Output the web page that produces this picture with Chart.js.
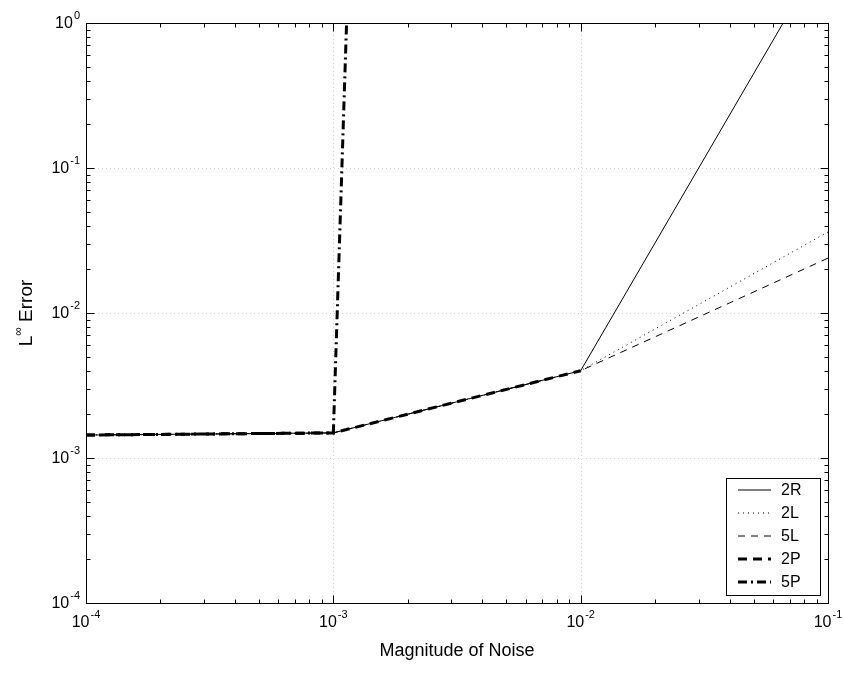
<!DOCTYPE html>
<html>
<head>
<meta charset="utf-8">
<script src="https://cdn.jsdelivr.net/npm/chart.js@4/dist/chart.umd.min.js"></script>
<style>
body{margin:0;background:#fff}
#wrap{width:844px;height:674px}
</style>
</head>
<body>
<div id="wrap"><canvas id="c" width="844" height="674"></canvas></div>
<script>
// values
var noise = [1e-4, 1e-3, 1e-2, 1e-1]
var err2R = [1.44e-3, 1.49e-3, 4.0e-3, 3.4]
var err2L = [1.44e-3, 1.49e-3, 4.0e-3, 0.0362]
var err5L = [1.44e-3, 1.49e-3, 4.0e-3, 0.0239]
var err2P = [1.44e-3, 1.49e-3, 4.0e-3, null]
var err5P = [1.44e-3, 1.49e-3, 1e50, null]
var xMajor = [1e-4, 1e-3, 1e-2, 1e-1]
var yMajor = [1e-4, 1e-3, 1e-2, 1e-1, 1e0]
var xExp = ['-4', '-3', '-2', '-1']
var yExp = ['-4', '-3', '-2', '-1', '0']
var names = ['2R', '2L', '5L', '2P', '5P']

function pts(ys){
  var out = []
  for (var i = 0; i < noise.length; i++) out.push({x: noise[i], y: ys[i]})
  return out
}

var FONT = '"Liberation Sans", Arial, Helvetica, sans-serif'

function minorVals(lo, hi){
  var v = []
  for (var d = lo; d < hi; d *= 10)
    for (var k = 2; k <= 9; k++) v.push(d * k)
  return v
}

// draws "10" with a raised exponent, anchored by align
function powLabel(ctx, exp, x, y, align){
  ctx.font = '16px ' + FONT
  var w1 = ctx.measureText('10').width
  ctx.font = '11px ' + FONT
  var w2 = ctx.measureText(exp).width
  var total = w1 + w2 + 1
  var sx = align == 'center' ? x - total / 2 : x - total
  ctx.textAlign = 'left'
  ctx.textBaseline = 'middle'
  ctx.font = '16px ' + FONT
  ctx.fillText('10', sx, y)
  ctx.font = '11px ' + FONT
  ctx.fillText(exp, sx + w1 + 1, y - 8)
}

var frame = {
  id: 'frame',
  beforeDatasetsDraw: function(chart){
    var ctx = chart.ctx, a = chart.chartArea
    var xs = chart.scales.x, ys = chart.scales.y
    ctx.save()
    ctx.strokeStyle = 'rgba(0,0,0,0.18)'
    ctx.lineWidth = 1
    ctx.setLineDash([1, 3])
    xMajor.slice(1, -1).forEach(function(v){
      var px = Math.round(xs.getPixelForValue(v)) + 0.5
      ctx.beginPath(); ctx.moveTo(px, a.top); ctx.lineTo(px, a.bottom); ctx.stroke()
    })
    yMajor.slice(1, -1).forEach(function(v){
      var py = Math.round(ys.getPixelForValue(v)) + 0.5
      ctx.beginPath(); ctx.moveTo(a.left, py); ctx.lineTo(a.right, py); ctx.stroke()
    })
    ctx.restore()
  },
  afterDraw: function(chart){
    var ctx = chart.ctx, a = chart.chartArea
    var xs = chart.scales.x, ys = chart.scales.y
    ctx.save()
    ctx.strokeStyle = '#000'
    ctx.fillStyle = '#000'
    ctx.lineWidth = 1
    ctx.setLineDash([])
    var L = Math.round(a.left) + 0.5, R = Math.round(a.right) + 0.5
    var T = Math.round(a.top) + 0.5, B = Math.round(a.bottom) + 0.5
    ctx.strokeRect(L, T, R - L, B - T)

    // inward ticks on all four sides
    function xt(v, len){
      var px = Math.round(xs.getPixelForValue(v)) + 0.5
      ctx.beginPath()
      ctx.moveTo(px, B); ctx.lineTo(px, B - len)
      ctx.moveTo(px, T); ctx.lineTo(px, T + len)
      ctx.stroke()
    }
    function yt(v, len){
      var py = Math.round(ys.getPixelForValue(v)) + 0.5
      ctx.beginPath()
      ctx.moveTo(L, py); ctx.lineTo(L + len, py)
      ctx.moveTo(R, py); ctx.lineTo(R - len, py)
      ctx.stroke()
    }
    minorVals(1e-4, 1e-1).forEach(function(v){ xt(v, 4) })
    minorVals(1e-4, 1e0).forEach(function(v){ yt(v, 4) })
    xMajor.forEach(function(v){ xt(v, 8) })
    yMajor.forEach(function(v){ yt(v, 8) })

    // tick labels
    xMajor.forEach(function(v, i){
      powLabel(ctx, xExp[i], xs.getPixelForValue(v), a.bottom + 20, 'center')
    })
    yMajor.forEach(function(v, i){
      powLabel(ctx, yExp[i], a.left - 6, ys.getPixelForValue(v) + 1, 'right')
    })

    // axis titles
    ctx.font = '18px ' + FONT
    ctx.textAlign = 'center'
    ctx.textBaseline = 'middle'
    ctx.fillText('Magnitude of Noise', (a.left + a.right) / 2, 651)

    ctx.save()
    ctx.translate(32, (a.top + a.bottom) / 2)
    ctx.rotate(-Math.PI / 2)
    ctx.textAlign = 'left'
    ctx.textBaseline = 'alphabetic'
    ctx.font = '19px ' + FONT
    var wL = ctx.measureText('L').width
    ctx.font = '12px ' + FONT
    var wI = ctx.measureText('\u221e').width
    ctx.font = '19px ' + FONT
    var wE = ctx.measureText(' Error').width
    var sx = -(wL + wI + wE) / 2
    ctx.fillText('L', sx, 0)
    ctx.font = '12px ' + FONT
    ctx.fillText('\u221e', sx + wL, -10)
    ctx.font = '19px ' + FONT
    ctx.fillText(' Error', sx + wL + wI, 0)
    ctx.restore()

    // legend box inside the plot
    var bx = 726.5, by = 478.5, bw = 94, bh = 117
    ctx.fillStyle = '#fff'
    ctx.fillRect(bx, by, bw, bh)
    ctx.strokeStyle = '#000'
    ctx.strokeRect(bx, by, bw, bh)
    chart.data.datasets.forEach(function(ds, i){
      var cy = 490 + i * 23
      ctx.strokeStyle = ds.borderColor
      ctx.lineWidth = ds.borderWidth
      ctx.setLineDash(ds.borderDash || [])
      ctx.beginPath(); ctx.moveTo(738, cy); ctx.lineTo(771, cy); ctx.stroke()
      ctx.setLineDash([])
      ctx.fillStyle = '#000'
      ctx.font = '16px ' + FONT
      ctx.textAlign = 'left'
      ctx.textBaseline = 'middle'
      ctx.fillText(names[i], 781, cy + 1)
    })
    ctx.restore()
  }
}

new Chart(document.getElementById('c'), {
  type: 'line',
  data: {
    datasets: [
      {label: names[0], data: pts(err2R), borderColor: '#000', borderWidth: 1, borderDash: [], pointRadius: 0, clip: 0},
      {label: names[1], data: pts(err2L), borderColor: '#000', borderWidth: 1, borderDash: [1, 4], pointRadius: 0, clip: 0},
      {label: names[2], data: pts(err5L), borderColor: '#000', borderWidth: 1, borderDash: [7, 6], pointRadius: 0, clip: 0},
      {label: names[3], data: pts(err2P), borderColor: '#000', borderWidth: 3, borderDash: [9, 6], pointRadius: 0, clip: 0},
      {label: names[4], data: pts(err5P), borderColor: '#000', borderWidth: 3, borderDash: [9, 4, 2, 4], pointRadius: 0, clip: 0}
    ]
  },
  options: {
    responsive: false,
    animation: false,
    devicePixelRatio: 1,
    layout: {padding: {left: 0, right: 16, top: 23, bottom: 0}},
    plugins: {legend: {display: false}, tooltip: {enabled: false}},
    scales: {
      x: {
        type: 'logarithmic', min: 1e-4, max: 1e-1,
        afterBuildTicks: function(s){ s.ticks = xMajor.map(function(v){ return {value: v} }) },
        afterFit: function(s){ s.height = 71 },
        ticks: {display: false},
        grid: {display: false},
        border: {display: false}
      },
      y: {
        type: 'logarithmic', min: 1e-4, max: 1e0,
        afterBuildTicks: function(s){ s.ticks = yMajor.map(function(v){ return {value: v} }) },
        afterFit: function(s){ s.width = 86 },
        ticks: {display: false},
        grid: {display: false},
        border: {display: false}
      }
    }
  },
  plugins: [frame]
})
</script>
</body>
</html>
